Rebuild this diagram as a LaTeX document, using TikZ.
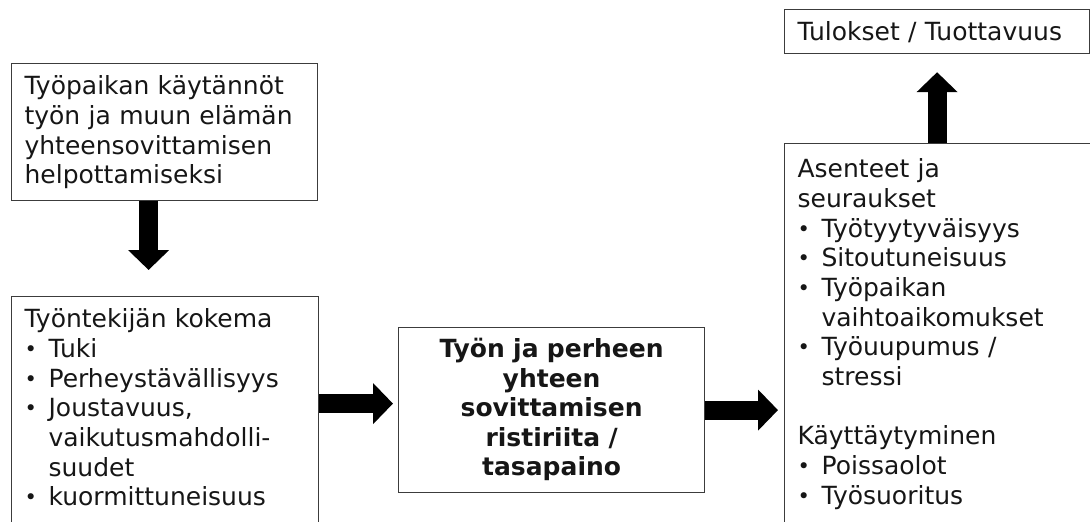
\documentclass[tikz,border=0pt]{standalone}
\usepackage{fontspec}
\setmainfont{DejaVu Sans}
\definecolor{ink}{RGB}{22,22,22}
\definecolor{frame}{RGB}{60,60,60}
\usetikzlibrary{arrows.meta,calc}
\newcommand{\bul}{\makebox[24pt][l]{\raisebox{1pt}{\fontsize{21}{21}\selectfont •}}}
\newcommand{\ind}{\hspace*{24pt}}

\begin{document}
\begin{tikzpicture}[x=1pt,y=-1pt,
    box/.style={draw=frame, line width=1.2pt, text=ink, anchor=north west, align=left,
      inner xsep=13pt, inner ysep=0pt, text height=31pt,
      font=\fontsize{25}{29.7}\selectfont},
    bigarrow/.style={draw=black, line width=19pt, -{Triangle[length=20pt,width=40pt]}}]
  \useasboundingbox (0,0) rectangle (1090,522);
  \clip (0,0) rectangle (1090,522);
  \node[box, text width=280pt, text depth=106pt] (practices) at (11,63)
    {Työpaikan käytännöt\\työn ja muun elämän\\yhteensovittamisen\\helpottamiseksi};
  \node[box, text width=281pt, text depth=260pt] (staff) at (11,296)
    {Työntekijän kokema\\\bul Tuki\\\bul Perheystävällisyys\\\bul Joustavuus,\\\ind vaikutusmahdolli-\\\ind suudet\\\bul kuormittuneisuus};
  \node[box, align=center, inner xsep=10pt, text width=286pt, text height=30pt, text depth=135pt,
    font=\fontsize{25}{29.5}\selectfont\bfseries] (balance) at (398,327)
    {Työn ja perheen\\yhteen\\sovittamisen\\ristiriita /\\tasapaino};
  \node[box, text width=300pt, text height=34pt, text depth=400pt] (result) at (784,143)
    {Asenteet ja\\seuraukset\\\bul Työtyytyväisyys\\\bul Sitoutuneisuus\\\bul Työpaikan\\\ind vaihtoaikomukset\\\bul Työuupumus /\\\ind stressi\\[29.7pt]Käyttäytyminen\\\bul Poissaolot\\\bul Työsuoritus};
  \node[box, text width=279pt, text depth=13pt] (outcome) at (784,9)
    {Tulokset / Tuottavuus};
  \coordinate (down) at ([xshift=-16pt]practices.south);
  \coordinate (across) at ($(staff.east |- balance.west)+(0,-6.5)$);
  \draw[bigarrow, shorten >=26pt] (down) -- (down |- staff.north);
  \draw[bigarrow, shorten >=5pt] (across) -- (across -| balance.west);
  \draw[bigarrow, shorten >=6pt] (balance.east) -- (balance.east -| result.west);
  \draw[bigarrow, shorten >=18pt] (result.north -| outcome.south) -- (outcome.south);
\end{tikzpicture}
\end{document}
